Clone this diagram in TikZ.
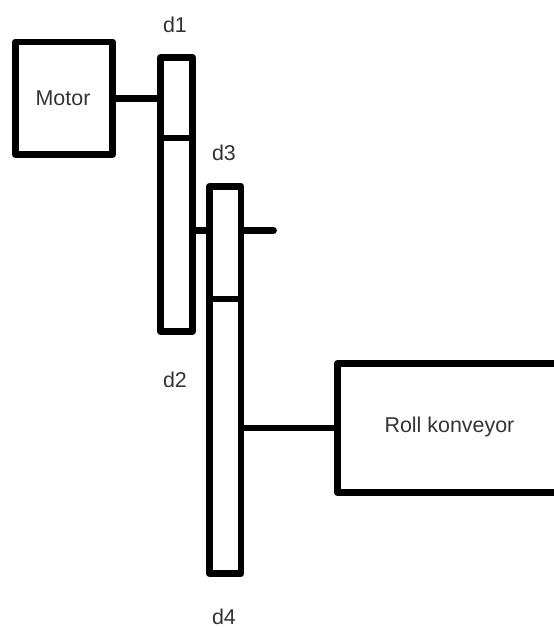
\documentclass[tikz,border=0pt]{standalone}
\usepackage{fontspec}
\setmainfont{Liberation Sans}
\usepackage{tikz}
\usetikzlibrary{positioning}

\begin{document}
\begin{tikzpicture}[
		x=0.02cm, y=-0.02cm,
		wide/.style={line width=0.135cm},
		pulley/.style={draw,wide,rectangle,outer sep=0,inner sep=0,line join=round},
		tag/.style={font=\fontsize{12.2}{14}\selectfont,text=black!80,inner sep=0}]
		\useasboundingbox (0,0) rectangle (554,627);

		\node[pulley,minimum width=1.94cm,minimum height=2.25cm] (motor) at (64,98.25) {};
		\node[pulley,minimum width=0.64cm,minimum height=5.48cm] (d1box) at (176.5,194.5) {};
		\node[pulley,minimum width=0.63cm,minimum height=7.74cm] (d3box) at (225.25,380) {};

		\node[tag] (motortext) at (63,98) {Motor};
		\node[tag] (rolltext) at (449.5,427) {Roll konveyor};
		\node[tag] (d1) at (175,25) {d1};
		\node[tag] (d3) at (224,153) {d3};
		\node[tag] (d2) at (175,380) {d2};
		\node[tag] (d4) at (224,617) {d4};

		\coordinate (d1split) at (176.5,138);
		\coordinate (d3split) at (225.25,299);
		\coordinate (shaft) at (225,230.5);
		\coordinate (shaftend) at (273.5,230.5);
		\coordinate (rollin) at (337.5,428);

		% roll conveyor runs off the right edge
		\draw[wide,line join=round] (554,363.5) -- (337.5,363.5) -- (337.5,492.5) -- (554,492.5);

		\draw[wide] (motor.east) -- (d1box.west |- motor.east);
		\draw[wide] (d1box.west |- d1split) -- (d1box.east |- d1split);
		\draw[wide] (d3box.west |- d3split) -- (d3box.east |- d3split);
		\draw[wide] (d1box.east |- shaft) -- (d3box.west |- shaft);
		\draw[wide,line cap=round,shorten <=0.06cm] (d3box.east |- shaftend) -- (shaftend);
		\draw[wide] (d3box.east |- rollin) -- (rollin);

\end{tikzpicture}
\end{document}
